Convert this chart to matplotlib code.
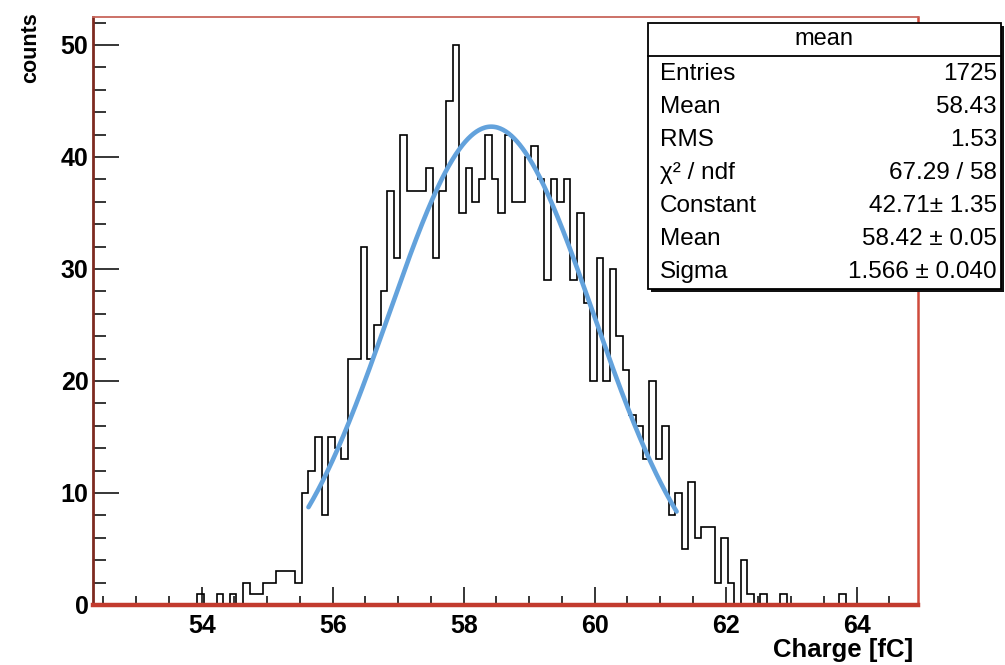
import numpy as np
import matplotlib
matplotlib.use("Agg")
import matplotlib.pyplot as plt
from matplotlib.patches import Rectangle
from matplotlib.lines import Line2D
from matplotlib.ticker import MultipleLocator

plt.rcParams['font.family'] = ['Liberation Sans', 'DejaVu Sans']

# ---- histogram: 126 bins of 0.1 fC ----
bin_low = 52.33
bin_width = 0.1
counts = [
    0, 0, 0, 0, 0, 0, 0, 0, 0, 0,          # 52.33 - 53.33
    0, 0, 0, 0, 0, 0, 1, 0, 0, 1,          # 53.33 - 54.33
    0, 1, 0, 2, 1, 1, 2, 2, 3, 3,          # 54.33 - 55.33
    3, 2, 10, 12, 15, 8, 15, 14, 13, 22,   # 55.33 - 56.33
    22, 32, 22, 25, 28, 37, 31, 42, 37, 37,  # 56.33 - 57.33
    37, 39, 31, 37, 45, 50, 35, 39, 36, 38,  # 57.33 - 58.33
    42, 38, 35, 42, 36, 36, 40, 41, 38, 29,  # 58.33 - 59.33
    38, 36, 38, 29, 35, 27, 20, 31, 20, 30,  # 59.33 - 60.33
    24, 21, 17, 16, 13, 20, 13, 16, 8, 10,   # 60.33 - 61.33
    5, 11, 6, 7, 7, 2, 6, 2, 0, 4,           # 61.33 - 62.33
    1, 0, 1, 0, 0, 1, 0, 0, 0, 0,            # 62.33 - 63.33
    0, 0, 0, 0, 1, 0, 0, 0, 0, 0,            # 63.33 - 64.33
    0, 0, 0, 0, 0, 0,                        # 64.33 - 64.93
]
edges = bin_low + bin_width * np.arange(len(counts) + 1)

# ---- gaussian fit ----
fit_constant = 42.71
fit_mean = 58.42
fit_sigma = 1.566
fit_range = (55.63, 61.25)

# ---- statistics box ----
stat_title = "mean"
stat_labels = ["Entries", "Mean", "RMS", "\u03c7\u00b2 / ndf", "Constant", "Mean", "Sigma"]
stat_values = ["1725", "58.43", "1.53", "67.29 / 58", "42.71\u00b1 1.35",
               "58.42 \u00b1 0.05", "1.566 \u00b1 0.040"]

W, H = 1005, 665
fig = plt.figure(figsize=(W / 100, H / 100), dpi=100)
fig.patch.set_facecolor('white')

# frame in pixels
fl, fr, ft, fb = 93.3, 918.3, 17.0, 605.0
ax = fig.add_axes([fl / W, 1 - fb / H, (fr - fl) / W, (fb - ft) / H])
ax.set_xlim(52.345, 64.94)
ax.set_ylim(0, 52.5)

ax.stairs(counts, edges, color='black', linewidth=1.2, baseline=0, zorder=2)

xf = np.linspace(fit_range[0], fit_range[1], 400)
yf = fit_constant * np.exp(-0.5 * ((xf - fit_mean) / fit_sigma) ** 2)
ax.plot(xf, yf, color='#63a2dc', linewidth=3.3, solid_capstyle='round', zorder=3)

ax.xaxis.set_major_locator(MultipleLocator(2))
ax.xaxis.set_minor_locator(MultipleLocator(0.5))
ax.yaxis.set_major_locator(MultipleLocator(10))
ax.yaxis.set_minor_locator(MultipleLocator(2))
ax.tick_params(which='both', direction='in', top=False, right=False,
               color='black', width=1.1, labelsize=18)
ax.xaxis.set_tick_params(which='major', length=13, pad=6.5)
ax.xaxis.set_tick_params(which='minor', length=6.5)
ax.yaxis.set_tick_params(which='major', length=19, pad=3.5)
ax.yaxis.set_tick_params(which='minor', length=9.5)
for lab in ax.get_xticklabels() + ax.get_yticklabels():
    lab.set_fontweight('bold')

ax.spines['bottom'].set_color('#c23b2e')
ax.spines['bottom'].set_linewidth(3.2)
ax.spines['left'].set_color('#7d2a20')
ax.spines['left'].set_linewidth(2.0)
ax.spines['right'].set_color('#cf4a3c')
ax.spines['right'].set_linewidth(1.8)
ax.spines['top'].set_color('#c8665c')
ax.spines['top'].set_linewidth(1.3)
for s in ax.spines.values():
    s.set_zorder(4)

fig.text(31 / W, 1 - 12 / H, "counts", rotation=90, ha='center', va='top',
         fontsize=15.5, fontweight='bold')
fig.text(913 / W, 1 - 650 / H, "Charge [fC]", ha='right', va='center',
         fontsize=18.5, fontweight='bold')

# overlay in pixel coordinates for the statistics box
ov = fig.add_axes([0, 0, 1, 1], zorder=10)
ov.set_xlim(0, W)
ov.set_ylim(H, 0)
ov.axis('off')
ov.patch.set_alpha(0)

bx0, bx1, by0, by1 = 648.0, 1000.5, 23.0, 288.5
ov.add_patch(Rectangle((bx0 + 3, by0 + 3), bx1 - bx0, by1 - by0,
                       facecolor='#111111', edgecolor='none'))
ov.add_patch(Rectangle((bx0, by0), bx1 - bx0, by1 - by0,
                       facecolor='white', edgecolor='black', linewidth=1.3))
ov.add_line(Line2D([bx0, bx1], [55.5, 55.5], color='black', linewidth=1.3))
ov.text((bx0 + bx1) / 2, 39, stat_title, ha='center', va='center', fontsize=17)
row_y = [74, 107, 140, 173, 206, 239, 272]
for yy, lab, val in zip(row_y, stat_labels, stat_values):
    ov.text(660, yy, lab, ha='left', va='center', fontsize=17.5)
    ov.text(997, yy, val, ha='right', va='center', fontsize=17.5)

fig.savefig("out.png", dpi=100, facecolor='white')
